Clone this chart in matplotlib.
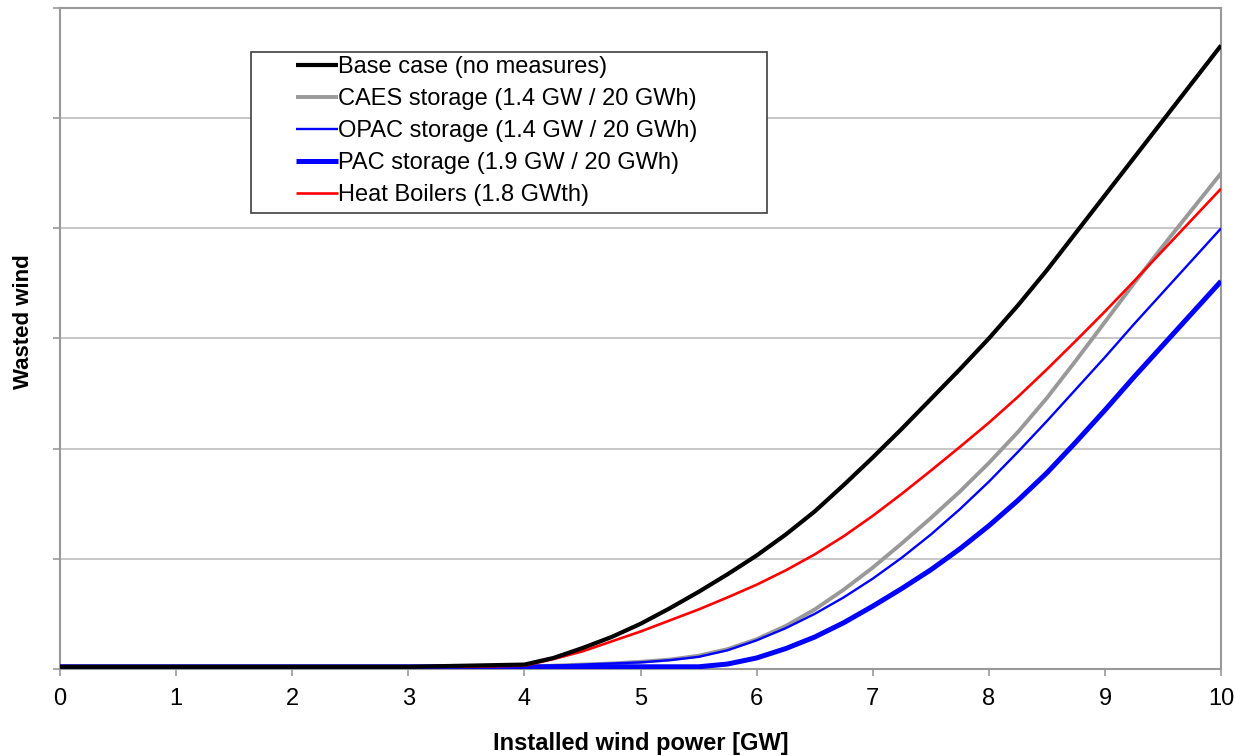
import numpy as np
import matplotlib
matplotlib.use('Agg')
import matplotlib.pyplot as plt
from matplotlib.patches import Rectangle

plt.rcParams['font.family'] = ['Liberation Sans', 'DejaVu Sans']

# installed wind power [GW]
power = [0, 0.5, 1, 1.5, 2, 2.5, 3, 3.5,
         4, 4.25, 4.5, 4.75, 5, 5.25, 5.5, 5.75, 6, 6.25, 6.5, 6.75, 7, 7.25, 7.5, 7.75,
         8, 8.25, 8.5, 8.75, 9, 9.25, 9.5, 9.75, 10]

# wasted wind (axis has no unit / labels)
base = [0.02, 0.02, 0.02, 0.02, 0.02, 0.02, 0.02, 0.03,
        0.04, 0.10, 0.19, 0.29, 0.41, 0.55, 0.70, 0.86, 1.03, 1.22, 1.43, 1.67, 1.92, 2.18,
        2.45, 2.72, 3.00, 3.30, 3.62, 3.96, 4.30, 4.64, 4.98, 5.32, 5.66]
caes = [0.02, 0.02, 0.02, 0.02, 0.02, 0.02, 0.02, 0.02,
        0.02, 0.03, 0.04, 0.05, 0.065, 0.085, 0.12, 0.18, 0.27, 0.39, 0.54, 0.72, 0.92, 1.14,
        1.37, 1.61, 1.87, 2.15, 2.46, 2.80, 3.15, 3.50, 3.84, 4.17, 4.50]
opac = [0.02, 0.02, 0.02, 0.02, 0.02, 0.02, 0.02, 0.02,
        0.02, 0.03, 0.04, 0.05, 0.06, 0.08, 0.11, 0.17, 0.26, 0.37, 0.50, 0.65, 0.82, 1.01,
        1.22, 1.45, 1.70, 1.97, 2.25, 2.54, 2.83, 3.13, 3.42, 3.71, 4.00]
pac = [0.02, 0.02, 0.02, 0.02, 0.02, 0.02, 0.02, 0.02,
       0.02, 0.02, 0.02, 0.02, 0.02, 0.02, 0.02, 0.045, 0.10, 0.185, 0.29, 0.42, 0.57, 0.73,
       0.90, 1.09, 1.30, 1.53, 1.78, 2.06, 2.35, 2.65, 2.94, 3.23, 3.52]
boilers = [0.02, 0.02, 0.02, 0.02, 0.02, 0.02, 0.02, 0.02,
           0.03, 0.09, 0.16, 0.25, 0.34, 0.44, 0.54, 0.65, 0.765, 0.895, 1.04, 1.205, 1.39, 1.59,
           1.80, 2.015, 2.235, 2.47, 2.72, 2.98, 3.245, 3.52, 3.80, 4.08, 4.36]

labels = ['Base case (no measures)', 'CAES storage (1.4 GW / 20 GWh)',
          'OPAC storage (1.4 GW / 20 GWh)', 'PAC storage (1.9 GW / 20 GWh)',
          'Heat Boilers (1.8 GWth)']

fig = plt.figure(figsize=(12.35, 7.56), dpi=100)
ax = fig.add_axes([0.0486, 0.1151, 0.9401, 0.8743])

kw = dict(solid_joinstyle='round', solid_capstyle='butt')
l1, = ax.plot(power, base, color='black', lw=3.0, zorder=5, **kw)
l2, = ax.plot(power, caes, color='#999999', lw=2.8, zorder=3, **kw)
l3, = ax.plot(power, opac, color='#0000ff', lw=1.7, zorder=4, **kw)
l4, = ax.plot(power, pac, color='#0000ff', lw=3.6, zorder=3, **kw)
l5, = ax.plot(power, boilers, color='#ff0000', lw=1.9, zorder=4, **kw)

ax.set_xlim(0, 10)
ax.set_ylim(0, 6)
ax.set_xticks(range(0, 11))
ax.set_yticks(range(0, 7))
ax.set_yticklabels([])
ax.grid(axis='y', color='#bdbdbd', lw=1.2)
ax.set_axisbelow(True)
for s in ax.spines.values():
    s.set_color('#999999')
    s.set_linewidth(1.5)
ax.tick_params(axis='both', direction='out', length=5, width=1.2, color='#999999',
               labelsize=17, pad=9)

ax.set_xlabel('Installed wind power [GW]', fontsize=17, fontweight='bold')
ax.xaxis.set_label_coords(0.5, -0.096)
ax.set_ylabel('Wasted wind', fontsize=16, fontweight='bold')
ax.yaxis.set_label_coords(-0.022, 0.525)

ax.add_patch(Rectangle((0.1645, 0.6899), 0.4444, 0.2436, transform=ax.transAxes,
                       fill=True, facecolor='white', edgecolor='#404040', lw=1.2, zorder=6))
leg = ax.legend([l1, l2, l3, l4, l5], labels, loc='upper left',
                bbox_to_anchor=(0.2033, 0.927), frameon=False, fontsize=17,
                handlelength=1.78, handletextpad=0.0, borderpad=0, borderaxespad=0,
                labelspacing=0.42)
leg.set_zorder(7)

fig.savefig('out.png', dpi=100)
